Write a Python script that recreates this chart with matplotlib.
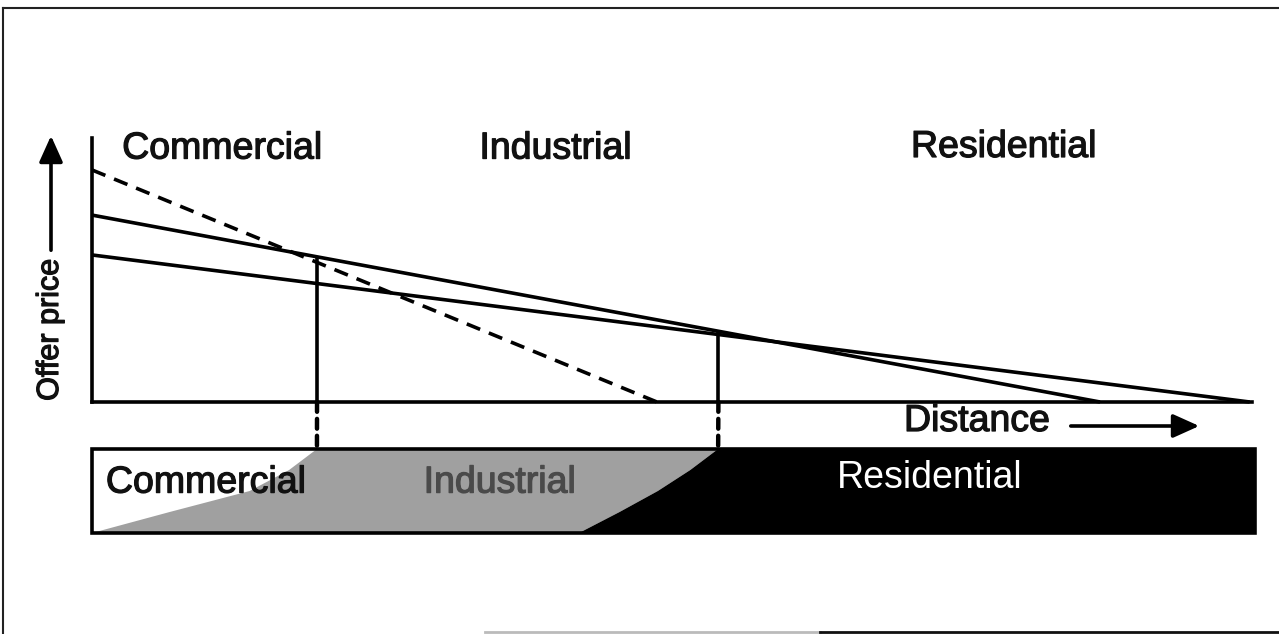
import numpy as np
import matplotlib
matplotlib.use("Agg")
import matplotlib.pyplot as plt
import matplotlib.patheffects as pe
from matplotlib.patches import Rectangle, Polygon, ConnectionPatch, FancyArrowPatch

plt.rcParams['font.family'] = ['Liberation Sans', 'DejaVu Sans']
plt.rcParams['hatch.color'] = '#7a7a7a'
plt.rcParams['hatch.linewidth'] = 0.8

# ---------------- data (distance 0..100, offer price 0..100) ----------------
zones = ["Commercial", "Industrial", "Residential"]
# bid-rent lines: intercept on price axis, intercept on distance axis
commercial_line = {"x": [0.0, 48.7], "y": [87.9, 0.0]}
industrial_line = {"x": [0.0, 86.9], "y": [70.8, 0.0]}
residential_line = {"x": [0.0, 99.8], "y": [55.7, 0.0]}
boundaries = [19.4, 54.0]
strip_end = 100.3
# zone-strip transition edges (distance at strip bottom -> top)
edge_left_x = [0.0, 6.7, 13.6, 17.0, 19.4]
edge_right_x = [42.0, 45.5, 48.8, 51.6, 54.0]
edge_frac = [0.0, 0.25, 0.5, 0.75, 1.0]

W, H = 1279, 634
fig = plt.figure(figsize=(W / 100, H / 100), dpi=100)
fig.patch.set_facecolor('white')

def fx(px):
    return px / W

def fy(py):
    return 1 - py / H

FS = 27

def bolden(color):
    return [pe.withStroke(linewidth=0.9, foreground=color)]

# scan frame
fig.add_artist(plt.Line2D([fx(3), fx(3)], [fy(8), fy(634)], color='#222222', lw=1.5))
fig.add_artist(plt.Line2D([fx(3), fx(1279)], [fy(8), fy(8)], color='#222222', lw=1.5))
fig.add_artist(plt.Line2D([fx(485), fx(820)], [fy(632), fy(632)], color='#bbbbbb', lw=2))
fig.add_artist(plt.Line2D([fx(820), fx(1279)], [fy(632), fy(632)], color='#111111', lw=2))

# ---------------- main graph ----------------
ax = fig.add_axes([fx(92), fy(402), fx(1252) - fx(92), fy(138) - fy(402)])
ax.set_xlim(0, 100)
ax.set_ylim(0, 100)
for s in ['top', 'right']:
    ax.spines[s].set_visible(False)
for s in ['left', 'bottom']:
    ax.spines[s].set_linewidth(2.6)
    ax.spines[s].set_color('black')
ax.set_xticks([])
ax.set_yticks([])
ax.patch.set_alpha(0)

ax.plot(commercial_line["x"], commercial_line["y"], color='black', lw=2.6,
        dashes=(4.0, 2.6), clip_on=False)
ax.plot(industrial_line["x"], industrial_line["y"], color='black', lw=2.6,
        clip_on=False, solid_capstyle='butt')
ax.plot(residential_line["x"], residential_line["y"], color='black', lw=2.6,
        clip_on=False, solid_capstyle='butt')

def envelope(x):
    vals = []
    for ln in (commercial_line, industrial_line, residential_line):
        vals.append(np.interp(x, ln["x"], ln["y"], right=0.0))
    return max(vals)

for b in boundaries:
    ax.plot([b, b], [0, envelope(b)], color='black', lw=2.6,
            solid_capstyle='butt')

label_pos = [(2.6, 96.0), (33.4, 96.0), (70.6, 96.6)]
for name, (lx, ly) in zip(zones, label_pos):
    ax.text(lx, ly, name, fontsize=FS, ha='left', va='center', color='#111111',
            path_effects=bolden('#111111'))

# ---------------- zone strip ----------------
sx = fig.add_axes([fx(92), fy(533), fx(1255) - fx(92), fy(449) - fy(533)])
sx.set_xlim(0, strip_end)
sx.set_ylim(0, 1)
sx.axis('off')

sx.add_patch(Rectangle((0, 0), strip_end, 1, facecolor='white', edgecolor='none'))
gray_poly = list(zip(edge_left_x, edge_frac)) + list(zip(edge_right_x, edge_frac))[::-1]
sx.add_patch(Polygon(gray_poly, closed=True, facecolor='#a0a0a0', edgecolor='none',
                     hatch='....', lw=0))
black_poly = list(zip(edge_right_x, edge_frac)) + [(strip_end, 1), (strip_end, 0)]
sx.add_patch(Polygon(black_poly, closed=True, facecolor='black', edgecolor='none'))
sx.add_patch(Rectangle((0, 0), strip_end, 1, facecolor='none', edgecolor='black',
                       lw=2.6, clip_on=False))

sx.text(1.2, 0.6, zones[0], fontsize=FS, ha='left', va='center', color='#111111',
        path_effects=bolden('#111111'))
sx.text(28.6, 0.6, zones[1], fontsize=FS, ha='left', va='center', color='#4a4a4a',
        path_effects=bolden('#4a4a4a'))
sx.text(64.2, 0.66, zones[2], fontsize=FS, ha='left', va='center', color='white')

# dashed connectors from boundaries down to strip
for b in boundaries:
    con = ConnectionPatch(xyA=(b, 0), coordsA=ax.transData,
                          xyB=(b, 1), coordsB=sx.transData,
                          color='black', lw=3.2, linestyle=(0, (2.2, 1.6)))
    fig.add_artist(con)

# ---------------- axis titles with arrows ----------------
fig.text(fx(50), fy(330), "Offer price", rotation=90, fontsize=22,
         ha='center', va='center', color='#111111', path_effects=bolden('#111111'))
fig.add_artist(FancyArrowPatch(
    (fx(51), fy(253)), (fx(51), fy(133)), transform=fig.transFigure,
    arrowstyle='-|>,head_length=10,head_width=4.5', mutation_scale=1.6,
    color='black', lw=2.6))

fig.text(fx(904), fy(421), "Distance", fontsize=FS, ha='left', va='center',
         color='#111111', path_effects=bolden('#111111'))
fig.add_artist(FancyArrowPatch(
    (fx(1068), fy(426)), (fx(1202), fy(426)), transform=fig.transFigure,
    arrowstyle='-|>,head_length=10,head_width=4.5', mutation_scale=1.6,
    color='black', lw=2.6))

fig.savefig("out.png", dpi=100, facecolor='white')
